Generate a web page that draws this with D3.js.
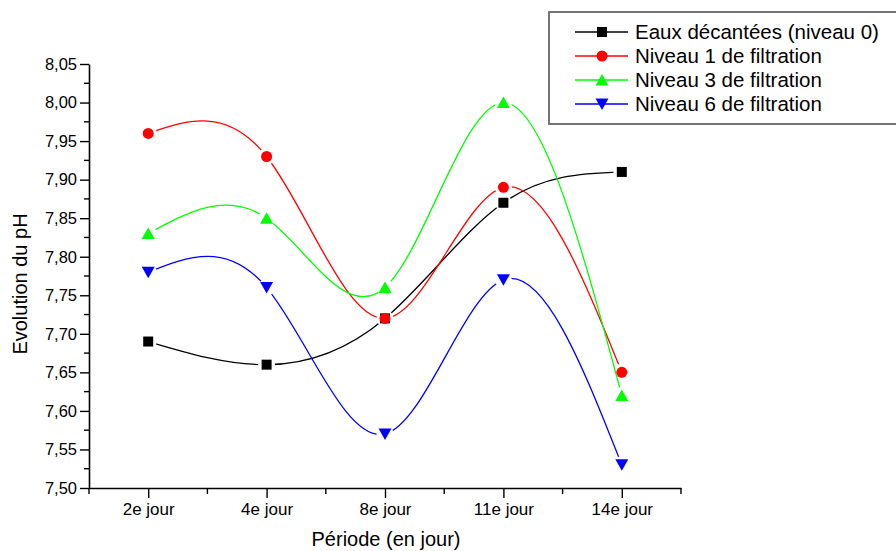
<!DOCTYPE html>
<html>
<head>
<meta charset="utf-8">
<script src="https://cdn.jsdelivr.net/npm/d3@7"></script>
<style>
  html, body { margin: 0; padding: 0; background: #fff; }
  svg { display: block; font-family: "Liberation Sans", Arial, sans-serif; }
</style>
</head>
<body>
<svg id="chart" width="896" height="551"></svg>
<script>
// Periods on the x axis
const periods = ["2e jour", "4e jour", "8e jour", "11e jour", "14e jour"];

// pH measured at each period
const decanted = [7.69, 7.66, 7.72, 7.87, 7.91];
const level1 = [7.96, 7.93, 7.72, 7.89, 7.65];
const level3 = [7.83, 7.85, 7.76, 8.00, 7.62];
const level6 = [7.78, 7.76, 7.57, 7.77, 7.53];

const seriesNames = [
  "Eaux décantées (niveau 0)",
  "Niveau 1 de filtration",
  "Niveau 3 de filtration",
  "Niveau 6 de filtration"
];

// Y axis ticks
const yMajorTicks = [7.50, 7.55, 7.60, 7.65, 7.70, 7.75, 7.80, 7.85, 7.90, 7.95, 8.00, 8.05];

const series = [
  { name: seriesNames[0], values: decanted, color: "#000000", symbol: "square" },
  { name: seriesNames[1], values: level1, color: "#ff0000", symbol: "circle" },
  { name: seriesNames[2], values: level3, color: "#00ff00", symbol: "up" },
  { name: seriesNames[3], values: level6, color: "#0000ff", symbol: "down" }
];

const svg = d3.select("#chart");
const plotLeft = 89, plotRight = 681, plotTop = 64, plotBottom = 488;

const x = d3.scalePoint().domain(periods).range([plotLeft, plotRight]).padding(0.5);
const y = d3.scaleLinear().domain([7.50, 8.05]).range([plotBottom, plotTop]);

const fmt = v => d3.format(".2f")(v).replace(".", ",");

// Marker shapes
function drawMarker(g, sym, cx, cy, color) {
  if (sym === "square") {
    g.append("rect").attr("x", cx - 5).attr("y", cy - 5).attr("width", 10).attr("height", 10).attr("fill", color);
  } else if (sym === "circle") {
    g.append("circle").attr("cx", cx).attr("cy", cy).attr("r", 5.5).attr("fill", color);
  } else if (sym === "up") {
    g.append("path").attr("d", `M${cx - 6.5},${cy + 5.5}L${cx + 6.5},${cy + 5.5}L${cx},${cy - 6}Z`).attr("fill", color);
  } else {
    g.append("path").attr("d", `M${cx - 6.5},${cy - 5.5}L${cx + 6.5},${cy - 5.5}L${cx},${cy + 6}Z`).attr("fill", color);
  }
}

// Axes
const yAxis = d3.axisLeft(y).tickValues(yMajorTicks).tickFormat(fmt).tickSize(9).tickSizeOuter(0);
const gy = svg.append("g").attr("transform", `translate(${plotLeft},0)`).call(yAxis);
gy.select(".domain").attr("stroke", "#000").attr("stroke-width", 1.6);
gy.selectAll(".tick line").attr("stroke", "#000").attr("stroke-width", 1.4);
gy.selectAll(".tick text").attr("font-size", 16.5).attr("fill", "#000").attr("x", -12)
  .attr("font-family", "'Liberation Sans', Arial, sans-serif");

// Minor y ticks between majors
const yMinor = yMajorTicks.slice(0, -1).map(v => v + 0.025);
svg.append("g").selectAll("line").data(yMinor).join("line")
  .attr("x1", plotLeft - 5).attr("x2", plotLeft).attr("y1", d => y(d)).attr("y2", d => y(d))
  .attr("stroke", "#000").attr("stroke-width", 1.4);

const xAxis = d3.axisBottom(x).tickSize(10).tickSizeOuter(0).tickPadding(5);
const gx = svg.append("g").attr("transform", `translate(0,${plotBottom})`).call(xAxis);
gx.select(".domain").attr("stroke", "#000").attr("stroke-width", 1.6);
gx.selectAll(".tick line").attr("stroke", "#000").attr("stroke-width", 1.4);
gx.selectAll(".tick text").attr("font-size", 17).attr("fill", "#000")
  .attr("font-family", "'Liberation Sans', Arial, sans-serif");

// Minor x ticks halfway between categories and at both ends
const step = x.step();
const xMinor = [plotLeft].concat(periods.map(p => x(p) + step / 2));
svg.append("g").selectAll("line").data(xMinor).join("line")
  .attr("x1", d => d).attr("x2", d => d).attr("y1", plotBottom).attr("y2", plotBottom + 6)
  .attr("stroke", "#000").attr("stroke-width", 1.4);

// Axis titles
svg.append("text").attr("x", 386).attr("y", 546).attr("text-anchor", "middle")
  .attr("font-size", 20).attr("fill", "#000").text("Période (en jour)");
svg.append("text").attr("transform", "translate(27,284) rotate(-90)").attr("text-anchor", "middle")
  .attr("font-size", 20).attr("fill", "#000").text("Evolution du pH");

// Series: smooth spline with small gaps around each marker
const line = d3.line().x((d, i) => x(periods[i])).y(d => y(d)).curve(d3.curveNatural);
const defs = svg.append("defs");

series.forEach((s, k) => {
  const mask = defs.append("mask").attr("id", "gap" + k).attr("maskUnits", "userSpaceOnUse")
    .attr("x", 0).attr("y", 0).attr("width", 896).attr("height", 551);
  mask.append("rect").attr("width", 896).attr("height", 551).attr("fill", "#fff");
  s.values.forEach((v, i) => {
    mask.append("circle").attr("cx", x(periods[i])).attr("cy", y(v)).attr("r", 8.5).attr("fill", "#000");
  });
  svg.append("path").datum(s.values).attr("d", line)
    .attr("fill", "none").attr("stroke", s.color).attr("stroke-width", 1.3)
    .attr("mask", `url(#gap${k})`);
});

series.forEach(s => {
  const g = svg.append("g");
  s.values.forEach((v, i) => drawMarker(g, s.symbol, x(periods[i]), y(v), s.color));
});

// Legend
const lg = svg.append("g");
lg.append("rect").attr("x", 549).attr("y", 12).attr("width", 360).attr("height", 112)
  .attr("fill", "#fff").attr("stroke", "#666").attr("stroke-width", 1.8);
series.forEach((s, i) => {
  const cy = 32 + i * 24;
  lg.append("line").attr("x1", 575).attr("x2", 628).attr("y1", cy).attr("y2", cy)
    .attr("stroke", s.color).attr("stroke-width", 1.3);
  drawMarker(lg, s.symbol, 602, cy, s.color);
  lg.append("text").attr("x", 635).attr("y", cy).attr("dy", "0.36em")
    .attr("font-size", 20.5).attr("fill", "#000").text(s.name);
});
</script>
</body>
</html>
